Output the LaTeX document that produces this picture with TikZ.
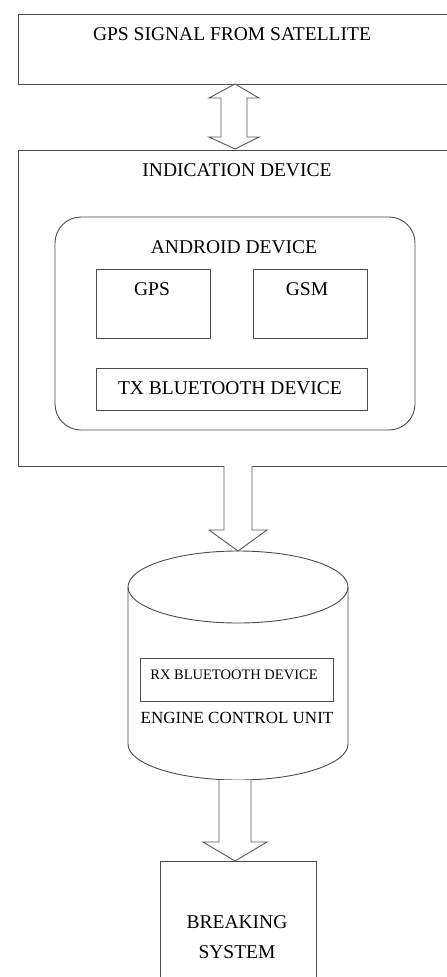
\documentclass[tikz,border=0pt]{standalone}
\usepackage{fontspec}
\setmainfont{Liberation Serif}
\begin{document}
\begin{tikzpicture}[x=1pt,y=-1pt,
  box/.style={draw=black!70, line width=0.9pt, inner sep=0pt},
  blockarrow/.style={draw=black!65, line width=0.9pt, fill=white, line join=miter},
  lbl/.style={font=\fontsize{19.5}{30}\selectfont, inner sep=0pt, text=black},
  smalllbl/.style={font=\fontsize{14.5}{17}\selectfont, inner sep=0pt, text=black},
  midlbl/.style={font=\fontsize{17}{20}\selectfont, inner sep=0pt, text=black}]
\useasboundingbox (0,0) rectangle (447,977);
\fill[white] (0,0) rectangle (447,977);
\clip (0,0) rectangle (447,977);

% top box
\node[box, minimum width=442pt, minimum height=70pt] (sat) at (239,49) {};
\node[lbl] (satT) at (232,34) {GPS SIGNAL FROM SATELLITE};

% indication device
\node[box, minimum width=442pt, minimum height=316pt] (ind) at (239,308) {};
\node[lbl] (indT) at (237,170) {INDICATION DEVICE};

% android device
\node[box, rounded corners=26pt, minimum width=360pt, minimum height=213pt] (and) at (235,323.5) {};
\node[lbl] (andT) at (234,247) {ANDROID DEVICE};

\node[box, minimum width=114pt, minimum height=69pt] (gps) at (153,303.5) {};
\node[lbl] (gpsT) at (152,289) {GPS};
\node[box, minimum width=114pt, minimum height=69pt] (gsm) at (310,303.5) {};
\node[lbl] (gsmT) at (307,289) {GSM};
\node[box, minimum width=271pt, minimum height=42pt] (tx) at (231.5,389) {};
\node[lbl] (txT) at (230,388) {TX BLUETOOTH DEVICE};

% double arrow between satellite and indication
\draw[blockarrow] (235,84) -- (259,98) -- (247,98) -- (247,137) -- (259,137)
  -- (235,149) -- (209,137) -- (221,137) -- (221,98) -- (209,98) -- cycle;

% arrow indication -> ECU
\draw[blockarrow] (224,466) -- (224,530) -- (209,530) -- (238,551) -- (267,530) -- (252,530) -- (252,466);

% cylinder (engine control unit)
\coordinate (ecu) at (238,587);
\draw[draw=black!70, line width=0.9pt, fill=white] (128,587) -- (128,744)
  arc[start angle=180, end angle=0, x radius=110, y radius=36] -- (348,587);
\draw[draw=black!70, line width=0.9pt] (ecu) ellipse[x radius=110, y radius=36];
\node[box, minimum width=193pt, minimum height=43pt] (rx) at (236.5,679.5) {};
\node[smalllbl] (rxT) at (234,675) {RX BLUETOOTH DEVICE};
\node[midlbl] (ecuT) at (237,718) {ENGINE CONTROL UNIT};

% arrow ECU -> breaking system
\draw[blockarrow] (219,780) -- (219,842) -- (203,842) -- (235,861) -- (267,842) -- (251,842) -- (251,780);

% breaking system
\node[box, minimum width=156pt, minimum height=128pt] (brk) at (238,925) {};
\node[lbl, align=center] (brkT) at (237,937) {BREAKING\\SYSTEM};
\end{tikzpicture}
\end{document}
